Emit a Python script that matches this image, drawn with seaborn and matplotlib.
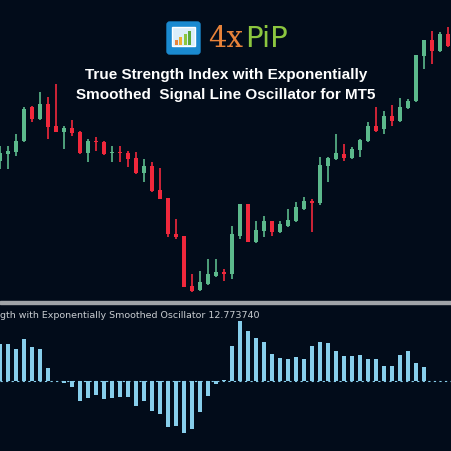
import numpy as np
import pandas as pd
import matplotlib
matplotlib.use("Agg")
import matplotlib.pyplot as plt
import seaborn as sns
from matplotlib.patches import FancyBboxPatch, Rectangle

# Candle data (screen-units, larger = lower on chart)
c_open  = [485,465,458,425,325,360,315,380,398,388,400,462,425,428,462,458,462,478,522,500,572,598,705,712,862,872,855,830,818,825,710,615,730,695,665,700,680,665,630,605,612,500,480,465,478,452,425,382,390,350,365,328,305,170,122,155,105]
c_close = [462,455,425,330,360,315,385,398,388,402,462,425,428,465,458,462,480,522,500,575,600,705,715,865,875,850,825,818,825,705,615,730,692,665,700,675,662,625,605,612,498,478,462,478,450,422,382,395,350,365,325,305,168,122,155,105,140]
c_high  = [440,440,405,325,320,280,295,255,380,362,395,420,415,425,440,440,455,458,480,488,508,598,660,710,825,815,780,780,810,680,615,615,665,652,665,665,630,610,595,600,475,475,405,435,445,420,368,325,335,318,298,300,168,122,95,98,85]
c_low   = [510,510,470,430,370,362,420,400,450,410,465,490,455,468,490,490,505,525,550,578,600,715,720,865,878,875,858,835,845,840,720,730,732,715,712,702,685,668,632,700,618,548,482,485,480,475,428,400,405,382,368,330,308,210,195,158,145]

# Oscillator values
osc = [112,112,97,127,102,97,40,2,-6,-18,-60,-50,-40,-53,-50,-46,-48,-73,-58,-88,-98,-136,-133,-156,-143,-93,-43,-8,4,107,180,150,130,117,82,70,67,74,67,107,117,114,92,77,77,79,67,67,47,47,80,90,54,42,0,0]

BG = "#020c1a"
GREEN = "#5cb98c"
RED = "#f0283c"

sns.set_theme(style="dark", rc={"axes.facecolor": BG, "figure.facecolor": BG})
plt.rcParams['font.family'] = ['Liberation Sans', 'DejaVu Sans']

fig = plt.figure(figsize=(4.52, 4.52), dpi=100)
ax = fig.add_axes([0, 1 - 300/452, 1, 300/452])
ax2 = fig.add_axes([0, 0, 1, 147/452])
for a in (ax, ax2):
    a.set_facecolor(BG)
    a.set_xticks([]); a.set_yticks([])
    for s in a.spines.values():
        s.set_visible(False)

idx = np.arange(len(c_open))
for i in idx:
    o, c, h, l = c_open[i], c_close[i], c_high[i], c_low[i]
    col = GREEN if c < o else RED
    ax.vlines(i, h, l, color=col, lw=1.2)
    top, bot = min(o, c), max(o, c)
    ax.bar(i, max(bot - top, 4), bottom=top, width=0.6, color=col, linewidth=0)
ax.set_xlim(0, 56.5)
ax.set_ylim(900, 0)

df = pd.DataFrame({"i": np.arange(len(osc)), "v": osc})
sns.barplot(data=df, x="i", y="v", native_scale=True, color="#87ceeb", saturation=1,
            width=0.38, linewidth=0, ax=ax2)
ax2.axhline(0, color="#87ceeb", lw=0.8, ls=(0, (2, 3)))
ax2.set_xlim(0, 56.5)
ax2.set_ylim(-209, 232)
ax2.set_xlabel(""); ax2.set_ylabel("")
ax2.set_xticks([]); ax2.set_yticks([])
ax2.text(0, 0.93, "gth with Exponentially Smoothed Oscillator 12.773740", transform=ax2.transAxes,
         color="#c8ccd0", fontsize=6.8, family=['DejaVu Sans'], va="center", ha="left")

# separator
fig.add_artist(Rectangle((0, 1 - 305/452), 1, 3/452, transform=fig.transFigure, color="#a0a4a8"))

# title
fig.text(0.5, 1 - 75/452, "True Strength Index with Exponentially", color="white",
         fontsize=11, fontweight="bold", ha="center", va="center")
fig.text(0.5, 1 - 95/452, "Smoothed  Signal Line Oscillator for MT5", color="white",
         fontsize=11, fontweight="bold", ha="center", va="center")

# logo
fig.add_artist(FancyBboxPatch((167/452, 1 - 55/452), 33/452, 32/452, boxstyle="round,pad=0,rounding_size=0.006",
                              transform=fig.transFigure, color="#1a8ad0"))
fig.add_artist(Rectangle((172/452, 1 - 47/452), 23/452, 19/452, transform=fig.transFigure,
                         facecolor="#dbeefa", edgecolor="white"))
for k, (hh, cc) in enumerate([(5, "#e8833a"), (8, "#f0b030"), (11, "#8cc63f"), (14, "#5aaa3a")]):
    fig.add_artist(Rectangle(((175 + 4.5*k)/452, 1 - 46/452), 3/452, hh/452, transform=fig.transFigure,
                             facecolor=cc, edgecolor="none"))
fig.text(208/452, 1 - 39/452, "4x", color="#e8833a", fontsize=21, family=['DejaVu Serif'], va="center", ha="left")
fig.text(245/452, 1 - 39/452, "PiP", color="#8cc63f", fontsize=21, family=['DejaVu Sans'], va="center", ha="left")

fig.savefig("out.png", dpi=100, facecolor=BG)
